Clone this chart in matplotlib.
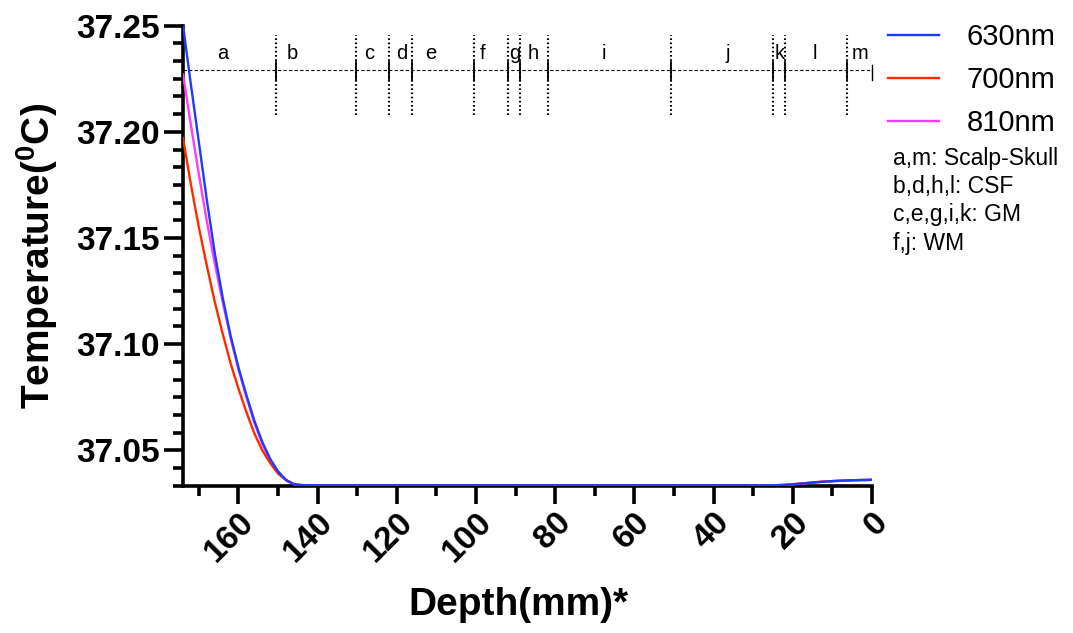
import numpy as np
import matplotlib
matplotlib.use("Agg")
import matplotlib.pyplot as plt
from matplotlib.ticker import MultipleLocator, AutoMinorLocator, FormatStrFormatter

plt.rcParams['font.family'] = ['Liberation Sans', 'DejaVu Sans']

# depth (mm) and temperature (deg C)
depth = [174, 172, 170, 168, 166, 164, 162, 160, 158, 156, 154, 152, 150, 148,
         146, 144, 140, 120, 100, 80, 60, 40, 25, 22, 18, 14, 10, 5, 0]
temp_630 = [37.250, 37.222, 37.195, 37.168, 37.143, 37.122, 37.104, 37.089, 37.076,
            37.064, 37.054, 37.046, 37.040, 37.036, 37.034, 37.0336, 37.0335, 37.0335,
            37.0335, 37.0335, 37.0335, 37.0335, 37.0335, 37.0337, 37.0343, 37.0350,
            37.0355, 37.0359, 37.0361]
temp_700 = [37.197, 37.175, 37.155, 37.137, 37.120, 37.105, 37.091, 37.079, 37.068,
            37.058, 37.050, 37.044, 37.039, 37.036, 37.034, 37.0336, 37.0335, 37.0335,
            37.0335, 37.0335, 37.0335, 37.0335, 37.0335, 37.0337, 37.0343, 37.0350,
            37.0355, 37.0359, 37.0361]
temp_810 = [37.227, 37.203, 37.180, 37.158, 37.138, 37.120, 37.103, 37.088, 37.075,
            37.063, 37.053, 37.045, 37.040, 37.036, 37.034, 37.0336, 37.0335, 37.0335,
            37.0335, 37.0335, 37.0335, 37.0335, 37.0335, 37.0337, 37.0343, 37.0350,
            37.0355, 37.0359, 37.0361]

# tissue layer boundaries (mm) and label positions
boundaries = [150.5, 130.3, 122.1, 116.2, 100.4, 92.0, 89.0, 81.9, 50.7, 25.0, 22.0, 6.2]
layer_labels = ['a', 'b', 'c', 'd', 'e', 'f', 'g', 'h', 'i', 'j', 'k', 'l', 'm']
label_pos = [164.1, 146.3, 127.1, 118.7, 111.5, 98.3, 90.3, 85.6, 67.8, 36.4, 23.4, 14.5, 3.1]
notes = ['a,m: Scalp-Skull', 'b,d,h,l: CSF', 'c,e,g,i,k: GM', 'f,j: WM']

fig = plt.figure(figsize=(10.73, 6.33), dpi=100)
ax = fig.add_axes([0.1706, 0.2327, 0.6421, 0.7267])

ax.plot(depth, temp_810, color='#ff3cff', lw=1.7, label='810nm', zorder=3)
ax.plot(depth, temp_700, color='#ff2a00', lw=1.7, label='700nm', zorder=4)
ax.plot(depth, temp_630, color='#1a3cff', lw=1.7, label='630nm', zorder=5)

ax.set_xlim(174, 0)
ax.set_ylim(37.05 - 2 * 0.05 / 6, 37.25)

# layer diagram at the top
line_y = 37.229
ax.plot([174, 0], [line_y, line_y], color='black', lw=0.8, ls=(0, (3, 2)), zorder=2)
for b in boundaries:
    ax.plot([b, b], [37.2079, 37.2456], color='black', lw=1.5, ls=(0, (0.8, 1.2)), zorder=2)
    ax.plot([b, b], [37.2244, 37.2330], color='black', lw=1.3, zorder=2)
ax.plot([0, 0], [37.2244, 37.2315], color='black', lw=1.0, zorder=2, clip_on=False)
for lab, p in zip(layer_labels, label_pos):
    ax.text(p, 37.237, lab, ha='center', va='center', fontsize=14.5)

for s in ['top', 'right']:
    ax.spines[s].set_visible(False)
for s in ['left', 'bottom']:
    ax.spines[s].set_linewidth(2.6)

ax.xaxis.set_major_locator(MultipleLocator(20))
ax.xaxis.set_minor_locator(MultipleLocator(10))
ax.yaxis.set_major_locator(MultipleLocator(0.05))
ax.yaxis.set_minor_locator(AutoMinorLocator(6))
ax.tick_params(axis='y', which='major', length=14, width=2.6)
ax.tick_params(axis='y', which='minor', length=7, width=2.6)
ax.tick_params(axis='x', which='major', length=13, width=2.6)
ax.tick_params(axis='x', which='minor', length=7, width=2.6)
ax.tick_params(axis='y', labelsize=24, pad=3)
ax.tick_params(axis='x', labelsize=24, pad=2)
ax.yaxis.set_major_formatter(FormatStrFormatter('%.2f'))
for t in ax.get_yticklabels():
    t.set_fontweight('bold')
for t in ax.get_xticklabels():
    t.set_fontweight('bold')
    t.set_rotation(45)
    t.set_ha('right')
    t.set_va('top')
    t.set_rotation_mode('anchor')

ax.set_ylabel('Temperature($\\mathregular{^{0}}$C)', fontsize=28, fontweight='bold',
              va='center', ha='center')
ax.yaxis.set_label_coords((37 - 183) / 689, 0.5)
ax.set_xlabel('Depth(mm)*', fontsize=28, fontweight='bold', va='center', ha='center')
ax.xaxis.set_label_coords((518 - 183) / 689, (485.7 - 605) / 460)

handles, labels = ax.get_legend_handles_labels()
order = [2, 1, 0]
leg = fig.legend([handles[i] for i in order], [labels[i] for i in order],
                 loc='upper left', bbox_to_anchor=(888 / 1073, 1 - 23 / 633),
                 bbox_transform=fig.transFigure, frameon=False, borderpad=0,
                 borderaxespad=0, fontsize=21, handlelength=1.75,
                 handletextpad=0.95, labelspacing=0.52)

for i, n in enumerate(notes):
    fig.text(893 / 1073, 1 - (158 + i * 28.5) / 633, n, fontsize=16.5, ha='left', va='center')

fig.savefig('out.png', dpi=100)
